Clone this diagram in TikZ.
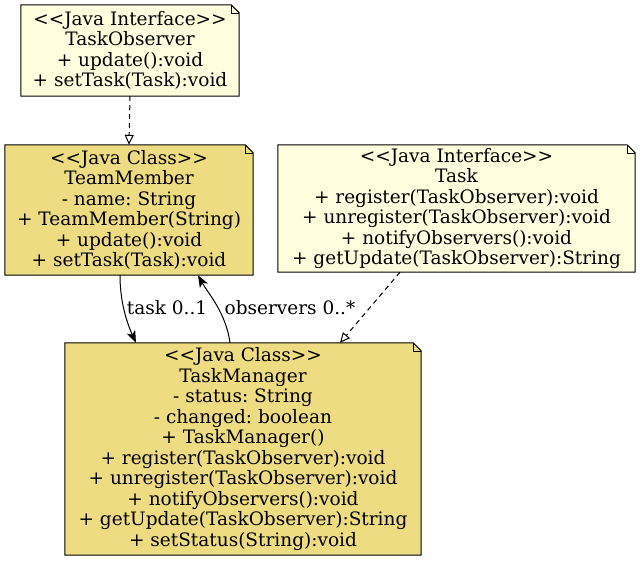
\documentclass[tikz,border=0pt]{standalone}
\usepackage{fontspec}
\setmainfont{DejaVu Serif}
\frenchspacing
\usetikzlibrary{arrows.meta,backgrounds}
\definecolor{ifill}{HTML}{FFFFE0}
\definecolor{cfill}{HTML}{EEDC82}
\tikzset{
  umlbox/.style={draw=none, inner sep=0pt, align=center,
    font=\fontsize{18.5}{20.5}\selectfont},
  realarrow/.style={dash pattern=on 5pt off 4pt, line width=1pt, -{Triangle[open,length=10pt,width=9pt]}},
  assoc/.style={line width=1pt, -{Stealth[length=12pt,width=9pt,inset=3pt]}},
  lbl/.style={font=\fontsize{18.5}{20}\selectfont, inner sep=0pt}
}
\newcommand{\notebg}[2]{%
  \path[fill=#2, draw=black, line width=1pt]
    (#1.north west) -- ([xshift=-8pt]#1.north east) -- ([yshift=-8pt]#1.north east)
    -- (#1.south east) -- (#1.south west) -- cycle;
  \draw[line width=0.6pt] ([xshift=-8pt]#1.north east) -- ([xshift=-8pt,yshift=-8pt]#1.north east)
    -- ([yshift=-8pt]#1.north east);
}
\begin{document}
\begin{tikzpicture}[x=1pt,y=-1pt]
\useasboundingbox (0,0) rectangle (640,560);
\node[umlbox, minimum width=218pt, minimum height=91pt] (obs) at (130,50.5)
  {<{}<Java Interface>{}>\\TaskObserver\\+ update():void\\+ setTask(Task):void};
\node[umlbox, minimum width=248pt, minimum height=130pt] (tm) at (129,210)
  {<{}<Java Class>{}>\\TeamMember\\- name: String\\+ TeamMember(String)\\+ update():void\\+ setTask(Task):void};
\node[umlbox, minimum width=357pt, minimum height=127pt] (task) at (456.5,208.5)
  {<{}<Java Interface>{}>\\Task\\+ register(TaskObserver):void\\+ unregister(TaskObserver):void\\+ notifyObservers():void\\+ getUpdate(TaskObserver):String};
\node[umlbox, minimum width=356pt, minimum height=212pt] (mgr) at (243,449)
  {<{}<Java Class>{}>\\TaskManager\\- status: String\\- changed: boolean\\+ TaskManager()\\+ register(TaskObserver):void\\+ unregister(TaskObserver):void\\+ notifyObservers():void\\+ getUpdate(TaskObserver):String\\+ setStatus(String):void};
\begin{scope}[on background layer]
  \fill[white] (0,0) rectangle (640,560);
  \notebg{obs}{ifill}
  \notebg{tm}{cfill}
  \notebg{task}{ifill}
  \notebg{mgr}{cfill}
\end{scope}
\draw[realarrow] (obs.south) -- (tm.north);
\draw[realarrow] ([xshift=-56.5pt]task.south) -- ([xshift=97pt]mgr.north);
\draw[assoc] ([xshift=-9pt]tm.south) .. controls +(0,25) and +(-10,-22) .. ([xshift=-107pt]mgr.north);
\draw[assoc] ([xshift=-13pt]mgr.north) .. controls +(-4,-30) and +(10,18) .. ([xshift=69pt]tm.south);
\node[lbl] (l1) at (167,308) {task 0..1};
\node[lbl] (l2) at (290,308) {observers 0..*};
\end{tikzpicture}
\end{document}
